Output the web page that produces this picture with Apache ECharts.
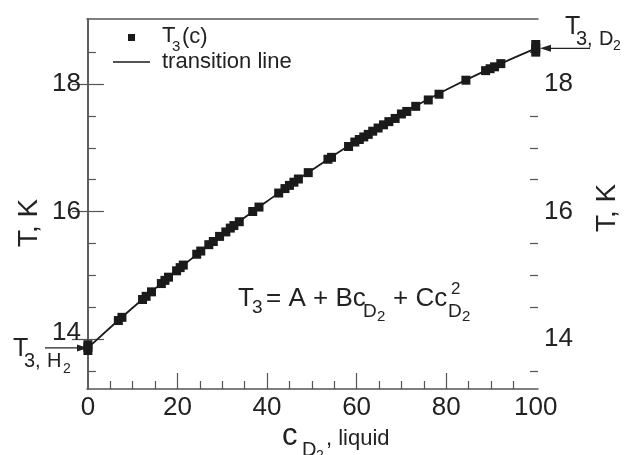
<!DOCTYPE html>
<html>
<head>
<meta charset="utf-8">
<script src="https://cdn.jsdelivr.net/npm/echarts@6/dist/echarts.min.js"></script>
<style>
  html, body { margin: 0; padding: 0; background: #fff; }
  #chart { width: 629px; height: 455px; }
</style>
</head>
<body>
<div id="chart"></div>
<script>
// measured points T3(c)
const cValues = [0, 0, 0, 6.8, 7.6, 12.2, 13.0, 14.2, 16.4, 17.2, 18.0, 19.8, 20.6, 21.3, 24.3, 25.2,
  27.0, 28.0, 29.4, 30.8, 31.8, 32.6, 33.8, 36.8, 38.2, 42.6, 44.0, 45.0, 46.0, 47.0, 49.2, 53.6,
  54.4, 58.2, 59.6, 60.6, 61.6, 62.6, 63.6, 64.8, 66.0, 67.2, 68.6, 70.0, 71.2, 73.2, 76.0, 78.4,
  84.4, 88.8, 89.8, 90.8, 92.2, 100, 100, 100];
const tValues = [13.82, 13.87, 13.91, 14.29, 14.34, 14.62, 14.67, 14.74, 14.87, 14.92, 14.97, 15.07,
  15.12, 15.16, 15.33, 15.38, 15.48, 15.53, 15.61, 15.68, 15.74, 15.78, 15.84, 16.00, 16.07, 16.29,
  16.36, 16.41, 16.46, 16.51, 16.61, 16.82, 16.85, 17.02, 17.09, 17.13, 17.17, 17.21, 17.26, 17.31,
  17.36, 17.41, 17.46, 17.53, 17.57, 17.65, 17.75, 17.84, 18.06, 18.21, 18.24, 18.27, 18.32, 18.50,
  18.56, 18.62];

// transition line
const lineC = [0, 10, 20, 30, 40, 50, 60, 70, 80, 90, 100];
const lineT = [13.86, 14.49, 15.08, 15.64, 16.16, 16.65, 17.11, 17.53, 17.91, 18.25, 18.56];

// ticks
const xLabelValues = [0, 20, 40, 60, 80, 100];
const xMajorTicks = [20, 40, 60, 80];
const xMinorTicks = [5, 10, 15, 25, 30, 35, 45, 50, 55, 65, 70, 75, 85, 90, 95];
const yLabelValues = [14, 16, 18];
const yMinorTicks = [13.5, 14.5, 15, 15.5, 16.5, 17, 17.5, 18.5];

const FONT = 'Liberation Sans';
const INK = '#222';
const AXIS = '#555';
const X_MIN = -0.2, X_MAX = 100.5;
const Y_MIN = 13.216, Y_MAX = 19.02;

const chart = echarts.init(document.getElementById('chart'));

function xAxisDef(pos, extra) {
    return Object.assign({
        type: 'value', position: pos, min: X_MIN, max: X_MAX,
        axisLine: { show: false },
        axisTick: { show: false },
        axisLabel: { show: false },
        splitLine: { show: false }
    }, extra);
}

function yAxisDef(pos, extra) {
    return Object.assign({
        type: 'value', position: pos, min: Y_MIN, max: Y_MAX,
        axisLine: { show: false },
        axisTick: { show: false },
        axisLabel: { show: false },
        splitLine: { show: false }
    }, extra);
}

const lineAx = { show: true, lineStyle: { color: AXIS, width: 1.5 } };
const majorTick = (vals) => ({ show: true, inside: true, length: 16, customValues: vals, lineStyle: { color: AXIS, width: 1.2 } });
const minorTick = (vals) => ({ show: true, inside: true, length: 8, customValues: vals, lineStyle: { color: AXIS, width: 1.2 } });
const labelStyle = { fontFamily: FONT, fontSize: 26, color: INK };

const option = {
    animation: false,
    backgroundColor: '#fff',
    grid: { left: 87, right: 80, top: 19, bottom: 66 },
    xAxis: [
        xAxisDef('bottom', {
            axisLine: lineAx,
            axisTick: majorTick(xMajorTicks),
            axisLabel: Object.assign({ show: true, margin: 6, customValues: xLabelValues }, labelStyle)
        }),
        xAxisDef('bottom', { axisTick: minorTick(xMinorTicks) }),
        xAxisDef('top', { axisLine: lineAx })
    ],
    yAxis: [
        yAxisDef('left', {
            axisLine: lineAx,
            axisTick: majorTick(yLabelValues),
            axisLabel: Object.assign({
                show: true, margin: 6, customValues: yLabelValues,
                formatter: (v) => v === 14 ? '{up|14}' : String(v),
                rich: { up: { fontFamily: FONT, fontSize: 26, color: INK, padding: [0, 0, 12, 0] } }
            }, labelStyle),
            name: 'T, K',
            nameLocation: 'middle',
            nameGap: 44,
            nameMoveOverlap: false,
            nameRotate: 90,
            nameTextStyle: { fontFamily: FONT, fontSize: 28, color: INK, padding: [0, 38, 0, 0] }
        }),
        yAxisDef('left', { axisTick: minorTick(yMinorTicks) }),
        yAxisDef('right', {
            axisLine: lineAx,
            axisTick: majorTick(yLabelValues),
            axisLabel: Object.assign({ show: true, margin: 6, customValues: yLabelValues }, labelStyle),
            name: 'T, K',
            nameLocation: 'middle',
            nameGap: 55,
            nameMoveOverlap: false,
            nameRotate: 90,
            nameTextStyle: { fontFamily: FONT, fontSize: 28, color: INK, padding: [0, 8, 0, 0] }
        }),
        yAxisDef('right', { axisTick: minorTick(yMinorTicks) })
    ],
    series: [
        {
            name: 'transition line',
            type: 'line',
            smooth: true,
            symbol: 'none',
            xAxisIndex: 0, yAxisIndex: 0,
            lineStyle: { color: '#1a1a1a', width: 1.8 },
            data: lineC.map((c, i) => [c, lineT[i]]),
            z: 2
        },
        {
            name: 'T3(c)',
            type: 'scatter',
            symbol: 'rect',
            symbolSize: 9,
            xAxisIndex: 0, yAxisIndex: 0,
            itemStyle: { color: '#1a1a1a', opacity: 1 },
            data: cValues.map((c, i) => [c, tValues[i]]),
            z: 3
        }
    ]
};

chart.setOption(option);

// text pieces, positioned by their vertical middle
function txt(s, x, y, size) {
    return {
        type: 'text', x: x, y: y, z: 10,
        style: { text: s, fontFamily: FONT, fontSize: size, fill: INK, align: 'left', verticalAlign: 'middle' }
    };
}

function arrow(x1, y, x2) {
    const dir = x2 > x1 ? 1 : -1;
    return {
        type: 'group',
        children: [
            { type: 'line', shape: { x1: x1, y1: y, x2: x2 - dir * 8, y2: y }, style: { stroke: INK, lineWidth: 1.3 } },
            { type: 'polygon', shape: { points: [[x2, y], [x2 - dir * 11, y - 3.5], [x2 - dir * 11, y + 3.5]] }, style: { fill: INK } }
        ]
    };
}

const p0 = chart.convertToPixel({ gridIndex: 0 }, [X_MIN, lineT[0]]);
const p1 = chart.convertToPixel({ gridIndex: 0 }, [X_MAX, lineT[lineT.length - 1]]);

chart.setOption({
    graphic: [
        // legend
        { type: 'rect', shape: { x: 128, y: 34, width: 7, height: 7 }, style: { fill: '#1a1a1a' } },
        txt('T', 162, 36, 22),
        txt('3', 172, 47, 15),
        txt('(c)', 182, 37, 22),
        { type: 'line', shape: { x1: 113, y1: 62, x2: 150, y2: 62 }, style: { stroke: '#1a1a1a', lineWidth: 1.6 } },
        txt('transition line', 162, 62, 22),

        // equation
        txt('T', 238, 299, 26),
        txt('3', 252, 308, 19),
        txt('= A + Bc', 266, 299, 26),
        txt('D', 363, 312, 19),
        txt('2', 377, 317, 15),
        txt('+ Cc', 393, 299, 26),
        txt('D', 448, 312, 19),
        txt('2', 462, 317, 15),
        txt('2', 451, 289, 17),

        // end points
        txt('T', 13, p0[1] + 1, 25),
        txt('3,', 24, p0[1] + 14, 20),
        txt('H', 47, p0[1] + 14, 20),
        txt('2', 63, p0[1] + 21, 14),
        arrow(45, p0[1], p0[0] + 1),

        txt('T', 565, p1[1] - 21, 25),
        txt('3,', 576, p1[1] - 9, 20),
        txt('D', 599, p1[1] - 9, 20),
        txt('2', 613, p1[1] - 2, 14),
        arrow(590, p1[1], p1[0] + 2),

        // x axis name
        txt('c', 282, 436, 31),
        txt('D', 302, 450, 20),
        txt('2', 316, 456, 14),
        txt(', liquid', 326, 439, 22)
    ]
});
</script>
</body>
</html>
